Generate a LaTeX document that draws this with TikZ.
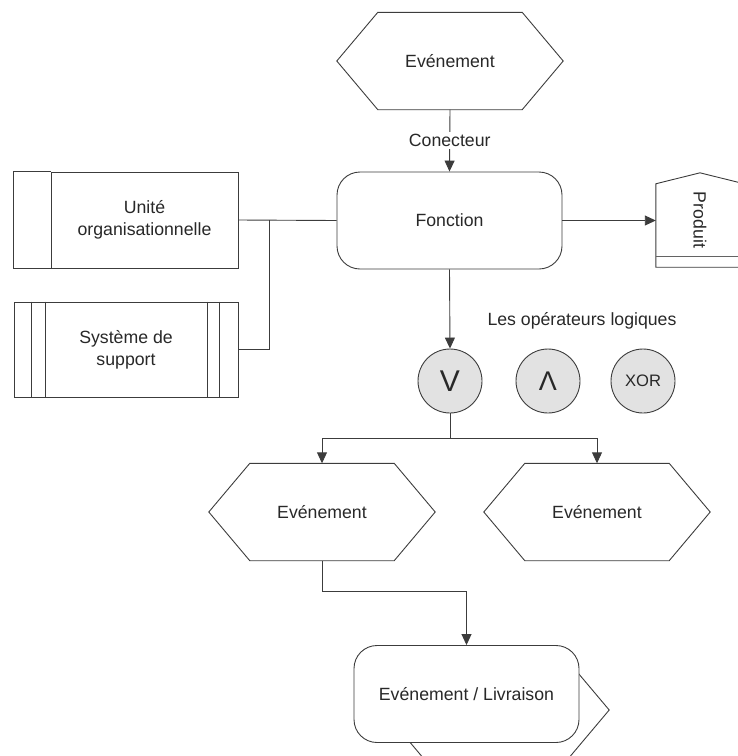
\documentclass[tikz,border=0pt]{standalone}
\usepackage{fontspec}
\setmainfont{Liberation Sans}
\usepackage{graphicx}
\usetikzlibrary{arrows.meta}
\definecolor{linec}{RGB}{60,60,60}
\definecolor{textc}{RGB}{40,40,40}
\definecolor{opfill}{RGB}{226,226,226}

% hexagonal event outline drawn around a named rectangular node
\newcommand\evthex[1]{\draw[shapeline] (#1.west) -- ([xshift=41pt]#1.north west) -- ([xshift=-41pt]#1.north east) -- (#1.east) -- ([xshift=-41pt]#1.south east) -- ([xshift=41pt]#1.south west) -- cycle;}

\begin{document}
\begin{tikzpicture}[x=1pt,y=-1pt,
  every node/.style={text=textc, font=\fontsize{17.7}{22}\selectfont},
  shapeline/.style={draw=linec, line width=0.9pt},
  conn/.style={draw=linec, line width=0.9pt},
  arr/.style={conn, -{Triangle[length=11pt,width=10pt]}},
  evt/.style={minimum width=226pt, minimum height=97pt, inner sep=0pt},
  func/.style={shapeline, fill=white, rounded corners=23pt, minimum width=225pt, minimum height=97pt, inner sep=0pt},
  orgbox/.style={shapeline, fill=white, minimum width=187pt, minimum height=96pt, align=center, inner sep=0pt},
  sysbox/.style={shapeline, fill=white, minimum width=224pt, minimum height=95pt, align=center, inner sep=0pt},
  opnode/.style={shapeline, circle, fill=opfill, minimum size=64pt, inner sep=0pt},
]
\useasboundingbox (0,0) rectangle (738,756);
\clip (0,0) rectangle (738,756);

% start event and function
\node[evt] (ev0) at (450,61) {Evénement};
\evthex{ev0}
\node[func] (fonc) at (449.5,220.5) {Fonction};
\draw[arr] (ev0.south) -- node[fill=white, inner sep=2pt] (conlabel) {Conecteur} (fonc.north);

% organisational unit
\node[orgbox] (unite) at (144.5,220) {Unité\\organisationnelle};
\draw[shapeline] (unite.north west) -- ++(-37,0) |- (unite.south west);

% support system
\node[sysbox] (sys) at (126,349.5) {Système de\\support};
\foreach \dx in {18,32}
  \draw[shapeline] ([xshift=\dx pt]sys.north west) -- ([xshift=\dx pt]sys.south west);
\foreach \dx in {19,31}
  \draw[shapeline] ([xshift=-\dx pt]sys.north east) -- ([xshift=-\dx pt]sys.south east);

\coordinate (jn) at (269,220);
\draw[conn] (unite.east) -- (fonc.west);
\draw[conn] (sys.east) -| (jn);

% product
\node[minimum width=88pt, minimum height=72pt, inner sep=0pt] (prod) at (700,220) {\rotatebox{-90}{Produit}};
\draw[shapeline] ([yshift=-11pt]prod.south east) -- ([yshift=-11pt]prod.south west) -- (prod.north west) -- ([yshift=11pt]prod.north) -- (prod.north east) -- ([yshift=-11pt]prod.south east);
\draw[draw=linec!80, line width=0.9pt] (prod.south west) -- (prod.south east);
\draw[arr] (fonc.east) -- (fonc.east -| prod.west);

% logical operators
\node[opnode, font=\fontsize{30}{30}\selectfont] (opor) at (450,381) {V};
\node[opnode, font=\fontsize{27}{27}\selectfont, text depth=-3pt] (opand) at (548,381) {Λ};
\node[opnode, font=\fontsize{16.6}{20}\selectfont] (opxor) at (643,381) {XOR};
\node (oplabel) at (582,321) {Les opérateurs logiques};
\draw[arr] (fonc.south) -- (opor.north);

% resulting events
\node[evt] (ev1) at (322,512) {Evénement};
\evthex{ev1}
\node[evt] (ev2) at (597,512) {Evénement};
\evthex{ev2}
\coordinate (split) at (450,438);
\draw[conn] (opor.south) -- (split);
\draw[arr] (split) -| (ev1.north);
\draw[arr] (split) -| (ev2.north);

% delivery: event hexagon behind a rounded box
\node[evt] (livback) at (496,710) {};
\evthex{livback}
\node[func] (liv) at (466.5,694) {Evénement / Livraison};
\coordinate (bendy) at (0,591);
\draw[arr] (ev1.south) -- (ev1.south |- bendy) -| (liv.north);
\end{tikzpicture}
\end{document}
